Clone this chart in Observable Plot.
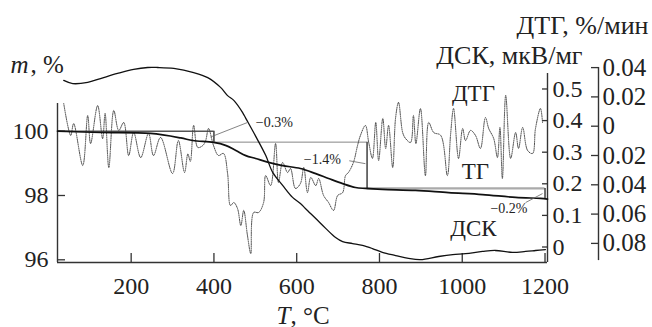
<!DOCTYPE html>
<html>
<head>
<meta charset="utf-8">
<script src="https://cdn.jsdelivr.net/npm/d3@7"></script>
<script src="https://cdn.jsdelivr.net/npm/@observablehq/plot@0.6"></script>
<style>
  html, body { margin: 0; padding: 0; background: #fff; }
  #chart svg, #chart svg text { font-family: "Liberation Serif", "DejaVu Serif", "Times New Roman", serif !important; }
</style>
</head>
<body>
<div id="chart"></div>
<script>
// ---- data ----
// ТГ: mass, %
const tgT = [22, 126, 247, 320, 349, 399, 428, 453, 477, 501, 532, 566, 609, 646, 677, 711, 742, 766, 807, 887, 967, 1049, 1129, 1189, 1206];
const tgM = [100.0, 99.96, 99.93, 99.79, 99.71, 99.65, 99.56, 99.40, 99.24, 99.15, 99.03, 98.93, 98.84, 98.68, 98.53, 98.37, 98.25, 98.22, 98.19, 98.16, 98.09, 98.03, 97.94, 97.91, 97.89];

// ДСК: мкВ/мг
const dscT = [37, 59, 95, 126, 167, 206, 240, 264, 303, 351, 385, 416, 433, 448, 469, 477, 501, 525, 542, 566, 590, 609, 621, 646, 670, 694, 711, 735, 759, 783, 807, 839, 870, 899, 943, 977, 1008, 1049, 1080, 1121, 1153, 1177, 1201];
const dscV = [0.527, 0.517, 0.521, 0.533, 0.549, 0.562, 0.568, 0.568, 0.565, 0.552, 0.536, 0.505, 0.479, 0.464, 0.426, 0.407, 0.35, 0.29, 0.236, 0.195, 0.157, 0.138, 0.122, 0.090, 0.059, 0.030, 0.017, 0.011, 0.005, -0.005, -0.017, -0.027, -0.036, -0.040, -0.030, -0.024, -0.021, -0.014, -0.011, -0.017, -0.014, -0.011, -0.008];

// ДТГ: %/мин
const dtgT = [37, 54, 61, 83, 95, 102, 119, 131, 137, 146, 158, 170, 182, 194, 206, 223, 242, 254, 271, 300, 314, 329, 337, 343, 351, 361, 373, 380, 387, 399, 411, 423, 433, 440, 448, 457, 465, 472, 481, 489, 496, 508, 520, 525, 537, 549, 556, 566, 578, 585, 597, 609, 617, 626, 634, 646, 653, 665, 677, 689, 699, 711, 718, 725, 737, 747, 754, 766, 774, 783, 791, 798, 808, 815, 822, 832, 839, 846, 856, 863, 875, 882, 888, 899, 911, 919, 931, 948, 964, 972, 979, 991, 1001, 1008, 1020, 1032, 1044, 1056, 1064, 1076, 1085, 1091, 1097, 1105, 1117, 1129, 1136, 1146, 1158, 1170, 1177, 1189, 1194];
const dtgV = [0.0155, -0.0063, 0.0018, -0.0268, 0.0073, -0.0118, 0.0141, -0.0084, 0.0087, -0.0282, 0.0107, -0.0029, 0.0025, -0.0200, -0.0043, -0.0214, -0.0050, -0.0200, -0.0077, -0.0323, -0.0098, -0.0316, -0.0190, -0.0240, 0.0005, -0.0145, -0.0132, -0.0098, -0.0016, -0.0132, -0.0200, -0.0186, -0.0323, -0.0541, -0.0521, -0.0562, -0.0678, -0.0575, -0.0746, -0.0869, -0.0589, -0.0589, -0.0521, -0.0337, -0.0405, -0.0118, -0.0384, -0.0248, -0.0316, -0.0289, -0.0425, -0.0391, -0.0282, -0.0453, -0.0350, -0.0405, -0.0357, -0.0473, -0.0521, -0.0575, -0.0473, -0.0453, -0.0337, -0.0316, -0.0248, -0.0132, -0.0063, 0.0005, -0.0111, -0.0220, 0.0025, -0.0234, 0.0053, -0.0152, 0.0005, -0.0282, 0.0059, 0.0162, -0.0043, -0.0084, -0.0111, 0.0073, -0.0118, 0.0121, -0.0337, 0.0025, -0.0043, -0.0063, -0.0337, -0.0050, 0.0121, -0.0220, -0.0016, -0.0098, -0.0029, -0.0063, -0.0152, 0.0059, -0.0016, -0.0084, -0.0214, -0.0009, -0.0357, 0.0210, -0.0220, -0.0043, -0.0152, -0.0009, -0.0166, -0.0186, -0.0016, 0.0121, 0.0025];

// mass-loss steps
const stepT = [22, 400, 770, 1200];
const stepM = [100, 99.66, 98.22, 97.9];
const stepLabels = ["\u22120.3%", "\u22121.4%", "\u22120.2%"];

// tick values
const xTicks = [200, 400, 600, 800, 1000, 1200];
const massTicks = [96, 98, 100];
const dscTicks = [0, 0.1, 0.2, 0.3, 0.4, 0.5];
const dtgTicks = [0.04, 0.02, 0, -0.02, -0.04, -0.06, -0.08];

// ---- layout / scale calibration ----
const xDomain = [22, 1206];
const yDomain = [95.916, 104.065];            // mass-% scale spans the whole SVG height above the x axis
const dscToM = d3.scaleLinear().domain([0, 0.5]).range([96.398, 101.313]);
const dtgToM = d3.scaleLinear().domain([-0.08, 0.04]).range([96.510, 101.978]);

const tgRows = tgT.map((T, i) => ({T, m: tgM[i]}));
const dscRows = dscT.map((T, i) => ({T, y: dscToM(dscV[i])}));
const dtgRows = dtgT.map((T, i) => ({T, y: dtgToM(dtgV[i])}));

const hRows = [0, 1, 2].map(i => ({x1: stepT[i], x2: stepT[i + 1], y: stepM[i]}));
const vRows = [1, 2, 3].map(i => ({x: stepT[i], y1: stepM[i - 1], y2: stepM[i]}));

// annotation placement (text anchor and leader line), in data units
const annRows = [
  {label: stepLabels[0], T: 501, m: 100.26, lx1: 392, ly1: 99.82, lx2: 481, ly2: 100.27},
  {label: stepLabels[1], T: 617, m: 99.12, lx1: 727, ly1: 99.08, lx2: 766, ly2: 98.99},
  {label: stepLabels[2], T: 1068, m: 97.60, lx1: 1153, ly1: 97.78, lx2: 1194, ly2: 98.06}
];
const curveLabels = [
  {text: "ДТГ", T: 1027, m: 101.17},
  {text: "ТГ", T: 1032, m: 98.75},
  {text: "ДСК", T: 1027, m: 96.97}
];

const AX = "#333";
const serif = "'Liberation Serif', 'DejaVu Serif', serif";

const chart = Plot.plot({
  width: 652,
  height: 327,
  marginLeft: 57,
  marginRight: 105,
  marginTop: 0,
  marginBottom: 65,
  x: {domain: xDomain, axis: null},
  y: {domain: yDomain, axis: null},
  style: {fontFamily: serif, fontSize: "24px", color: "#222", background: "#fff", overflow: "visible"},
  marks: [
    // axis lines
    Plot.ruleY([yDomain[0]], {stroke: AX, strokeWidth: 1.4}),
    Plot.ruleX([xDomain[0]], {y1: yDomain[0], y2: 100.862, stroke: AX, strokeWidth: 1.4}),
    Plot.ruleX([xDomain[1]], {y1: yDomain[0], y2: 101.795, stroke: AX, strokeWidth: 1.4}),
    Plot.ruleX([xDomain[1]], {y1: 95.975, y2: 101.98, dx: 51, stroke: AX, strokeWidth: 1.4}),

    // axes
    Plot.axisX(xTicks, {anchor: "bottom", tickSize: -9, tickPadding: 23, fontSize: 24, fontFamily: serif, stroke: AX, strokeWidth: 1.3, tickFormat: d => String(d)}),
    Plot.axisY(massTicks, {anchor: "left", tickSize: -8, tickPadding: 17, fontSize: 24, fontFamily: serif, stroke: AX, strokeWidth: 1.3, tickFormat: d => String(d)}),
    Plot.axisY(dscTicks.map(dscToM), {anchor: "right", tickSize: -6, tickPadding: 11, fontSize: 24, fontFamily: serif, stroke: AX, strokeWidth: 1.3,
      tickFormat: d => String(Math.round(dscToM.invert(d) * 10) / 10)}),
    Plot.axisY(dtgTicks.map(dtgToM), {anchor: "right", dx: 51, tickSize: -8, tickPadding: 12, fontSize: 25, fontFamily: serif, stroke: AX, strokeWidth: 1.3,
      tickFormat: d => String(Math.abs(Math.round(dtgToM.invert(d) * 100) / 100))}),

    // step construction lines
    Plot.ruleY([hRows[0]], {x1: "x1", x2: "x2", y: "y", stroke: "#555", strokeWidth: 1.6}),
    Plot.ruleY([hRows[1]], {x1: "x1", x2: "x2", y: "y", stroke: "#777", strokeWidth: 0.9}),
    Plot.ruleY([hRows[2]], {x1: "x1", x2: "x2", y: "y", stroke: "#aaa", strokeWidth: 2.2}),
    Plot.ruleX(vRows, {x: "x", y1: "y1", y2: "y2", stroke: "#222", strokeWidth: 1.3}),

    // curves
    Plot.line(dtgRows, {x: "T", y: "y", curve: "catmull-rom", stroke: "#444", strokeWidth: 1, strokeDasharray: "1,1.2"}),
    Plot.line(dscRows, {x: "T", y: "y", curve: "catmull-rom", stroke: "#111", strokeWidth: 1.3}),
    Plot.line(tgRows, {x: "T", y: "m", curve: "catmull-rom", stroke: "#111", strokeWidth: 1.7}),

    // annotations
    Plot.link(annRows, {x1: "lx1", y1: "ly1", x2: "lx2", y2: "ly2", stroke: "#666", strokeWidth: 0.8}),
    Plot.text(annRows, {x: "T", y: "m", text: "label", textAnchor: "start", fontSize: 14, fontFamily: serif, fill: "#222"}),
    Plot.text(curveLabels, {x: "T", y: "m", text: "text", fontSize: 23, fontFamily: serif, fill: "#222"}),

    // titles
    Plot.text(["ДТГ, %/мин"], {frameAnchor: "top-right", dx: 101, dy: 33, textAnchor: "end", lineAnchor: "bottom", fontSize: 26, fontFamily: serif, fill: "#222"}),
    Plot.text(["ДСК, мкВ/мг"], {frameAnchor: "top-right", dx: 35, dy: 63, textAnchor: "end", lineAnchor: "bottom", fontSize: 26, fontFamily: serif, fill: "#222"}),
    Plot.text(["m"], {frameAnchor: "top-left", dx: -47, dy: 72, textAnchor: "start", lineAnchor: "bottom", fontSize: 25, fontFamily: serif, fontStyle: "italic", fill: "#222"}),
    Plot.text([", %"], {frameAnchor: "top-left", dx: -27, dy: 72, textAnchor: "start", lineAnchor: "bottom", fontSize: 25, fontFamily: serif, fill: "#222"}),
    Plot.text(["T"], {frameAnchor: "bottom", dx: -12, dy: 61, textAnchor: "end", lineAnchor: "bottom", fontSize: 25, fontFamily: serif, fontStyle: "italic", fill: "#222"}),
    Plot.text([", °C"], {frameAnchor: "bottom", dx: -12, dy: 61, textAnchor: "start", lineAnchor: "bottom", fontSize: 25, fontFamily: serif, fill: "#222"})
  ]
});

document.getElementById("chart").appendChild(chart);
</script>
</body>
</html>
